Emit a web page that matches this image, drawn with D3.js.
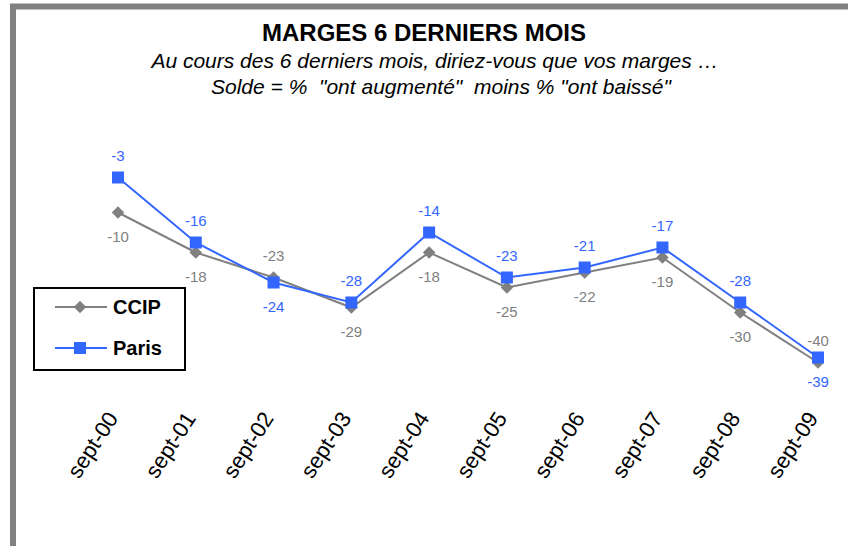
<!DOCTYPE html>
<html>
<head>
<meta charset="utf-8">
<script src="https://cdn.jsdelivr.net/npm/d3@7"></script>
<style>
  body { margin: 0; background: #fff; }
  text { font-family: "Liberation Sans", Arial, sans-serif; }
</style>
</head>
<body>
<div id="chart"></div>
<script>
// data
const months = ["sept-00", "sept-01", "sept-02", "sept-03", "sept-04", "sept-05", "sept-06", "sept-07", "sept-08", "sept-09"];
const ccip = [-10, -18, -23, -29, -18, -25, -22, -19, -30, -40];
const paris = [-3, -16, -24, -28, -14, -23, -21, -17, -28, -39];
// label placement: true = above the point
const ccipAbove = [false, false, true, false, false, false, false, false, false, true];
const parisAbove = [true, true, false, true, true, true, true, true, true, false];

const width = 848, height = 546;
const grey = "#808080", blue = "#3366ff";

const svg = d3.select("#chart")
    .append("svg")
    .attr("width", width)
    .attr("height", height);

// frame (cropped chart border)
svg.append("rect")
    .attr("x", 13).attr("y", 6.5)
    .attr("width", 900).attr("height", 600)
    .attr("fill", "none")
    .attr("stroke", grey)
    .attr("stroke-width", 6);

// titles
svg.append("text")
    .attr("x", 424).attr("y", 41)
    .attr("text-anchor", "middle")
    .style("font-size", "24px").style("font-weight", "bold")
    .text("MARGES 6 DERNIERS MOIS");
svg.append("text")
    .attr("x", 435).attr("y", 68)
    .attr("text-anchor", "middle")
    .style("font-size", "21px").style("font-style", "italic")
    .text("Au cours des 6 derniers mois, diriez-vous que vos marges …");
svg.append("text")
    .attr("x", 441).attr("y", 94)
    .attr("text-anchor", "middle")
    .attr("xml:space", "preserve")
    .style("white-space", "pre")
    .style("font-size", "21px").style("font-style", "italic")
    .text("Solde = %  \"ont augmenté\"  moins % \"ont baissé\"");

// scales
const x = d3.scalePoint()
    .domain(months)
    .range([118, 818]);
const y = d3.scaleLinear()
    .domain([0, -40])
    .range([162.5, 362.5]);

// category axis (hidden line, rotated labels)
const xAxis = svg.append("g")
    .attr("transform", "translate(0, 400)")
    .call(d3.axisBottom(x).tickSize(0));
xAxis.select(".domain").remove();
xAxis.selectAll("text")
    .attr("x", 0).attr("y", 0).attr("dy", "0.35em")
    .attr("text-anchor", "end")
    .attr("transform", "translate(-6, 14) rotate(-57)")
    .style("font-family", "'Liberation Sans', Arial, sans-serif")
    .style("font-size", "22px")
    .attr("fill", "#000");

const line = d3.line()
    .x((d, i) => x(months[i]))
    .y(d => y(d));

// CCIP series
svg.append("path")
    .datum(ccip)
    .attr("fill", "none")
    .attr("stroke", grey)
    .attr("stroke-width", 2)
    .attr("d", line);
svg.selectAll(".ccip-mark")
    .data(ccip)
    .join("path")
    .attr("class", "ccip-mark")
    .attr("transform", (d, i) => `translate(${x(months[i])},${y(d)})`)
    .attr("d", d3.symbol(d3.symbolDiamond2, 100)())
    .attr("fill", grey);

// Paris series
svg.append("path")
    .datum(paris)
    .attr("fill", "none")
    .attr("stroke", blue)
    .attr("stroke-width", 2)
    .attr("d", line);
svg.selectAll(".paris-mark")
    .data(paris)
    .join("rect")
    .attr("class", "paris-mark")
    .attr("x", (d, i) => x(months[i]) - 6)
    .attr("y", d => y(d) - 6)
    .attr("width", 12).attr("height", 12)
    .attr("fill", blue);

// value labels
function addLabels(values, above, color) {
    svg.append("g")
        .selectAll("text")
        .data(values)
        .join("text")
        .attr("x", (d, i) => x(months[i]))
        .attr("y", (d, i) => y(d) + (above[i] ? -17 : 29))
        .attr("text-anchor", "middle")
        .style("font-size", "15px")
        .attr("fill", color)
        .text(d => d);
}
addLabels(ccip, ccipAbove, grey);
addLabels(paris, parisAbove, blue);

// legend
const legend = svg.append("g");
legend.append("rect")
    .attr("x", 34).attr("y", 288)
    .attr("width", 151).attr("height", 82)
    .attr("fill", "#fff")
    .attr("stroke", "#000")
    .attr("stroke-width", 2);
const series = [
    { name: "CCIP", color: grey, y: 307 },
    { name: "Paris", color: blue, y: 348 }
];
series.forEach((s, i) => {
    legend.append("line")
        .attr("x1", 55).attr("x2", 107)
        .attr("y1", s.y).attr("y2", s.y)
        .attr("stroke", s.color).attr("stroke-width", 2);
    if (i === 0) {
        legend.append("path")
            .attr("transform", `translate(80,${s.y})`)
            .attr("d", d3.symbol(d3.symbolDiamond2, 100)())
            .attr("fill", s.color);
    } else {
        legend.append("rect")
            .attr("x", 74).attr("y", s.y - 6)
            .attr("width", 12).attr("height", 12)
            .attr("fill", s.color);
    }
    legend.append("text")
        .attr("x", 113).attr("y", s.y + 7)
        .style("font-size", "20px").style("font-weight", "bold")
        .text(s.name);
});
</script>
</body>
</html>
